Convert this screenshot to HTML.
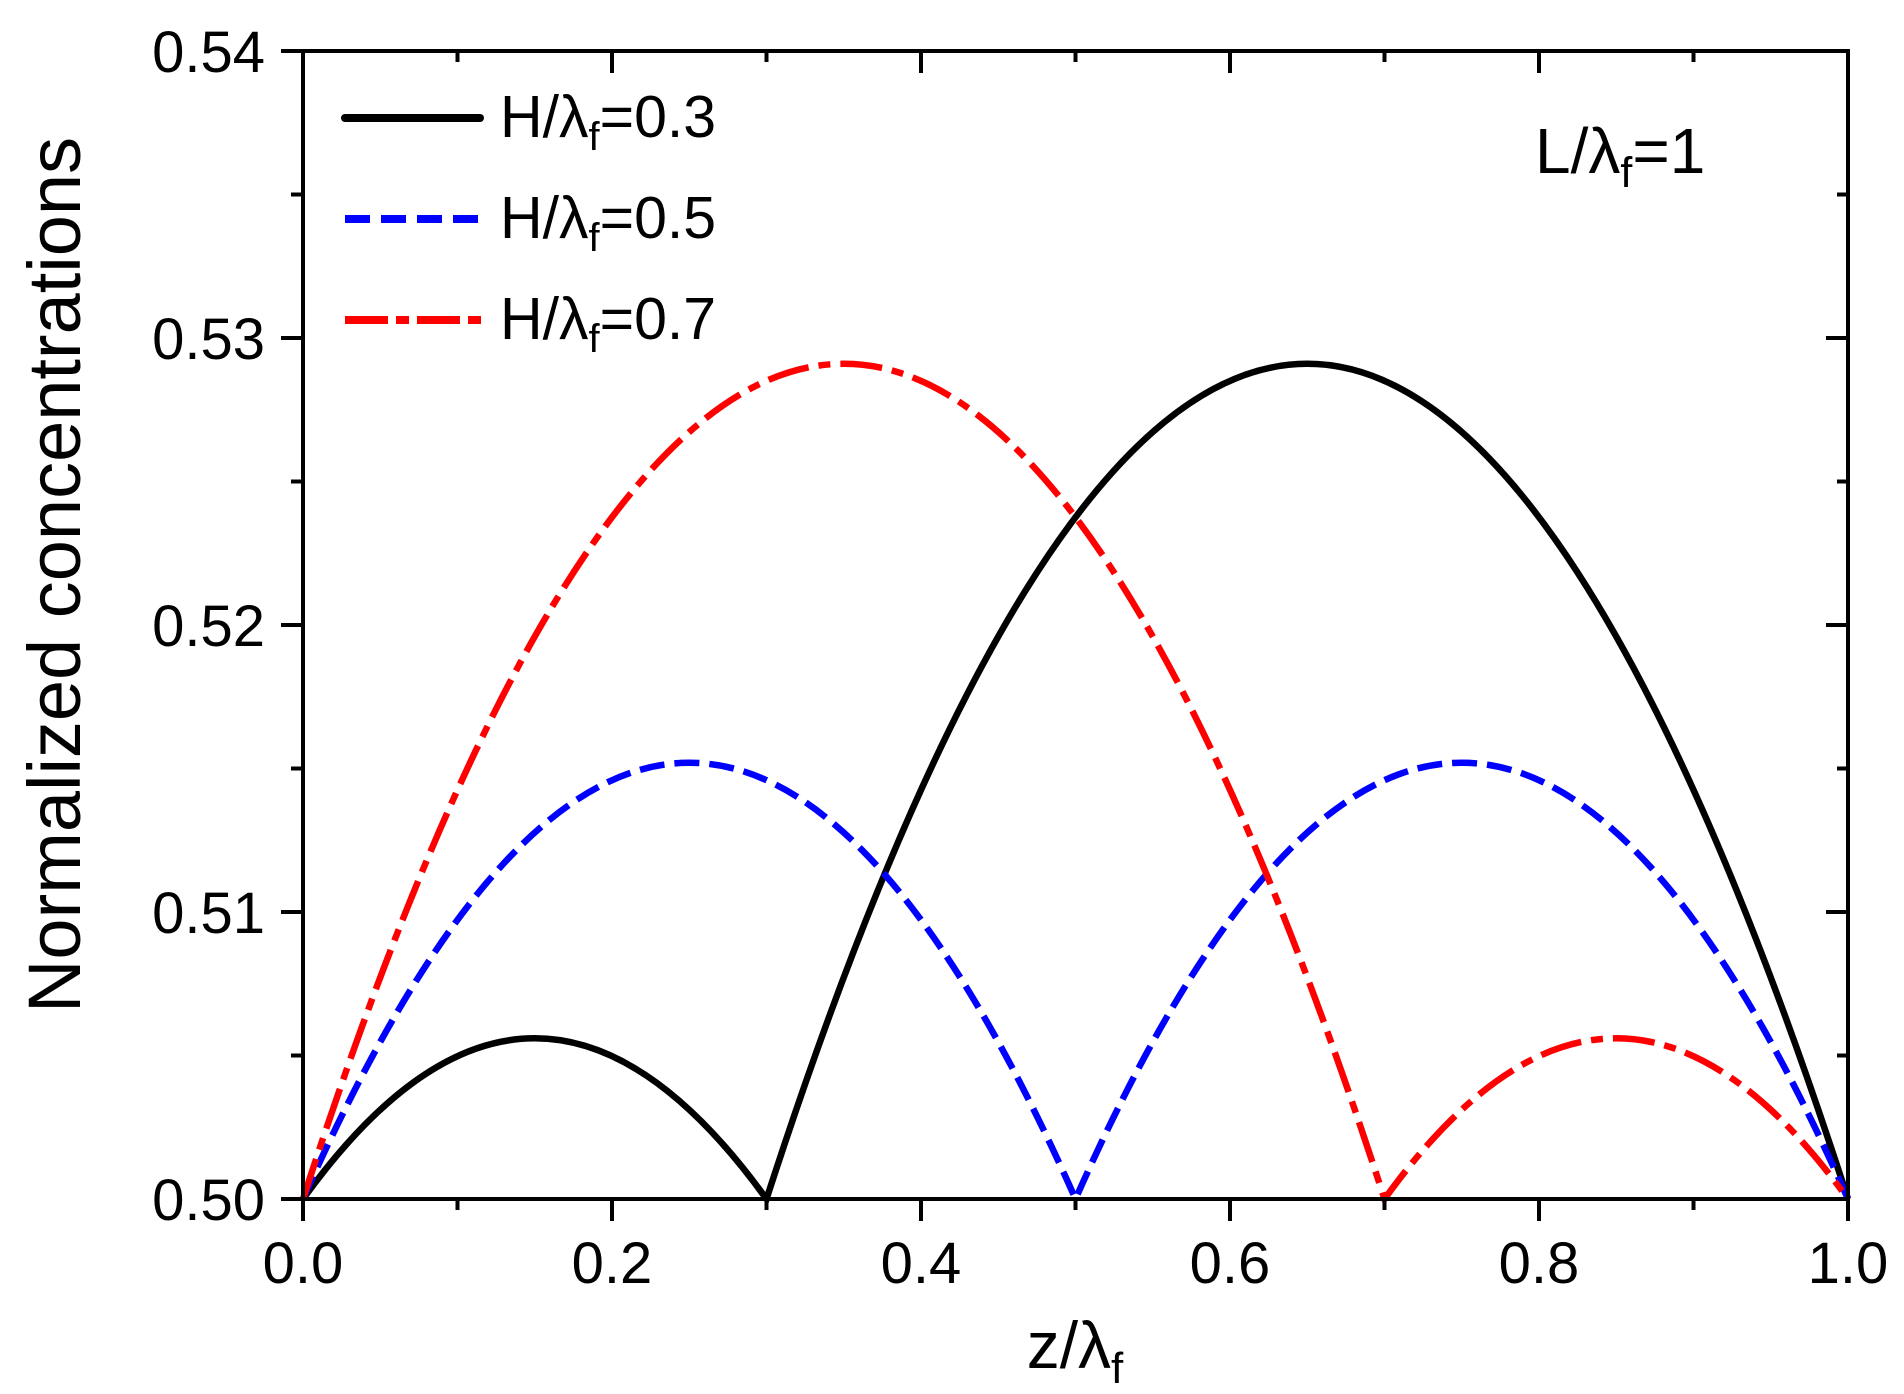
<!DOCTYPE html>
<html><head><meta charset="utf-8"><style>
html,body{margin:0;padding:0;background:#fff;}
svg{display:block;}
text{font-family:"Liberation Sans",Arial,sans-serif;fill:#000;}
</style></head><body>
<svg width="1904" height="1394" viewBox="0 0 1904 1394" xmlns="http://www.w3.org/2000/svg">
<g fill="none" stroke-linecap="butt">
<path d="M303,1199 Q534.75,877.6 766.5,1199 Q1307.25,-471.4 1848,1199" stroke="#000" stroke-width="6.5"/>
<path d="M303,1199 Q689.25,326.5 1075.5,1199 Q1461.75,326.5 1848,1199" stroke="#0000ff" stroke-width="6.5" stroke-dasharray="25 10"/>
<path d="M303,1199 Q843.75,-471.4 1384.5,1199 Q1616.25,877.6 1848,1199" stroke="#ff0000" stroke-width="6.5" stroke-dasharray="42 10 12 10"/>
</g>
<g stroke="#000" stroke-width="4" fill="none">
<rect x="303" y="51" width="1545" height="1148"/>
<path d="M303,1199v22 M612,1199v22 M921,1199v22 M1230,1199v22 M1539,1199v22 M1848,1199v22"/>
<path d="M457.5,1199v11 M766.5,1199v11 M1075.5,1199v11 M1384.5,1199v11 M1693.5,1199v11"/>
<path d="M612,51v22 M921,51v22 M1230,51v22 M1539,51v22"/>
<path d="M457.5,51v11 M766.5,51v11 M1075.5,51v11 M1384.5,51v11 M1693.5,51v11"/>
<path d="M281,51h22 M281,338h22 M281,625h22 M281,912h22 M281,1199h22"/>
<path d="M291,194.5h12 M291,481.5h12 M291,768.5h12 M291,1055.5h12"/>
<path d="M1848,338h-22 M1848,625h-22 M1848,912h-22"/>
<path d="M1848,194.5h-11 M1848,481.5h-11 M1848,768.5h-11 M1848,1055.5h-11"/>
</g>
<g font-size="58" text-anchor="end">
<text x="265" y="72">0.54</text>
<text x="265" y="359">0.53</text>
<text x="265" y="646">0.52</text>
<text x="265" y="933">0.51</text>
<text x="265" y="1220">0.50</text>
</g>
<g font-size="58" text-anchor="middle">
<text x="303" y="1283">0.0</text>
<text x="612" y="1283">0.2</text>
<text x="921" y="1283">0.4</text>
<text x="1230" y="1283">0.6</text>
<text x="1539" y="1283">0.8</text>
<text x="1848" y="1283">1.0</text>
</g>
<text x="1075" y="1368" font-size="66" text-anchor="middle">z/λ<tspan font-size="44" dy="15">f</tspan></text>
<text transform="translate(80,575) rotate(-90)" font-size="74" text-anchor="middle">Normalized concentrations</text>
<line x1="345" y1="118" x2="480" y2="118" stroke="#000" stroke-width="8" stroke-linecap="round"/>
<line x1="345" y1="219" x2="480" y2="219" stroke="#0000ff" stroke-width="8" stroke-dasharray="25 11"/>
<line x1="345" y1="320" x2="483" y2="320" stroke="#ff0000" stroke-width="8" stroke-dasharray="43 8 13 8"/>
<g font-size="59">
<text x="500" y="137">H/λ<tspan font-size="40" dy="13">f</tspan><tspan dy="-13">=0.3</tspan></text>
<text x="500" y="238">H/λ<tspan font-size="40" dy="13">f</tspan><tspan dy="-13">=0.5</tspan></text>
<text x="500" y="339">H/λ<tspan font-size="40" dy="13">f</tspan><tspan dy="-13">=0.7</tspan></text>
</g>
<text x="1535" y="173" font-size="64">L/λ<tspan font-size="43" dy="14">f</tspan><tspan dy="-14">=1</tspan></text>
</svg>
</body></html>
